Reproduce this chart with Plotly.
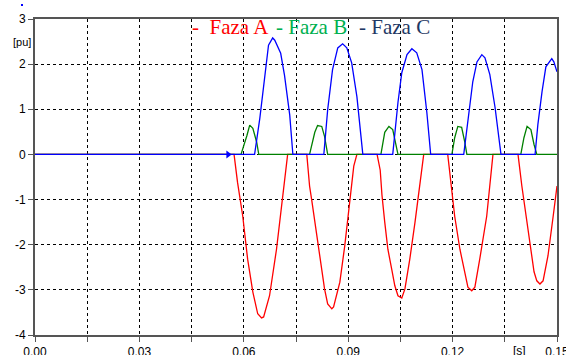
import plotly.graph_objects as go

# ---- data (time in s, values in pu) ----
red_t = [0.0, 0.0572, 0.0582, 0.0597, 0.0611, 0.0626, 0.0640, 0.0651, 0.0657, 0.0674, 0.0694, 0.0712, 0.0726,
         0.0781, 0.0789, 0.0795, 0.0809, 0.0824, 0.0832, 0.0841, 0.0853, 0.0858, 0.0876, 0.0890, 0.0904, 0.0916, 0.0925,
         0.0983, 0.0992, 0.0997, 0.1005, 0.1014, 0.1025, 0.1034, 0.1043, 0.1054, 0.1063, 0.1077, 0.1092, 0.1106, 0.1117,
         0.1186, 0.1198, 0.1206, 0.1221, 0.1235, 0.1244, 0.1255, 0.1264, 0.1278, 0.1298, 0.1316,
         0.1388, 0.1399, 0.1408, 0.1422, 0.1434, 0.1442, 0.1451, 0.1460, 0.1474, 0.1489, 0.1500]
red_v = [0, 0, -0.62, -1.37, -2.32, -3.05, -3.53, -3.62, -3.60, -3.13, -2.10, -0.84, 0,
         0, -0.70, -1.00, -1.72, -2.47, -2.98, -3.31, -3.42, -3.38, -2.83, -2.03, -1.00, -0.26, 0,
         0, -0.35, -0.90, -1.50, -2.10, -2.54, -2.91, -3.13, -3.18, -2.98, -2.32, -1.50, -0.62, 0,
         0, -0.77, -1.37, -2.10, -2.60, -2.94, -3.02, -2.94, -2.32, -1.37, 0,
         0, -0.70, -1.21, -1.94, -2.60, -2.80, -2.87, -2.80, -2.25, -1.37, -0.70]

green_t = [0.0, 0.0592, 0.0609, 0.0617, 0.0626, 0.0637, 0.0643,
           0.0789, 0.0804, 0.0812, 0.0824, 0.0832, 0.0841,
           0.0994, 0.1005, 0.1017, 0.1028, 0.1037, 0.1043,
           0.1198, 0.1206, 0.1215, 0.1226, 0.1235, 0.1241,
           0.1396, 0.1405, 0.1414, 0.1425, 0.1434, 0.1442, 0.1500]
green_v = [0, 0, 0.42, 0.65, 0.58, 0.27, 0,
           0, 0.49, 0.64, 0.62, 0.40, 0,
           0, 0.49, 0.62, 0.55, 0.26, 0,
           0, 0.37, 0.62, 0.60, 0.27, 0,
           0, 0.37, 0.62, 0.55, 0.22, 0, 0]

blue_t = [0.0, 0.0631, 0.0646, 0.0660, 0.0671, 0.0683, 0.0689, 0.0706, 0.0717, 0.0732, 0.0741,
          0.0830, 0.0841, 0.0855, 0.0870, 0.0884, 0.0896, 0.0910, 0.0925, 0.0942,
          0.1028, 0.1043, 0.1054, 0.1069, 0.1083, 0.1097, 0.1112, 0.1126, 0.1137,
          0.1232, 0.1244, 0.1258, 0.1270, 0.1284, 0.1293, 0.1307, 0.1322, 0.1339,
          0.1437, 0.1445, 0.1457, 0.1468, 0.1485, 0.1491, 0.1500]
blue_v = [0, 0, 0.80, 1.75, 2.42, 2.58, 2.53, 2.24, 1.75, 0.87, 0,
          0, 0.99, 1.88, 2.36, 2.45, 2.36, 2.03, 1.28, 0,
          0, 1.15, 1.81, 2.21, 2.34, 2.25, 1.88, 0.93, 0,
          0, 0.73, 1.61, 2.05, 2.21, 2.14, 1.77, 1.04, 0,
          0, 0.66, 1.39, 1.94, 2.12, 2.05, 1.83]

arrow_t = [0.0555]
arrow_v = [0.0]

x_tickvals = [0.0, 0.015, 0.03, 0.045, 0.06, 0.075, 0.09, 0.105, 0.12, 0.135, 0.15]
x_ticktext = ["0.00", "", "0.03", "", "0.06", "", "0.09", "", "0.12", "", "0.15"]
y_tickvals = [3, 2, 1, 0, -1, -2, -3, -4]
y_ticktext = ["3", "2", "1", "0", "-1", "-2", "-3", "-4"]

assert len(red_t) == len(red_v) and len(green_t) == len(green_v) and len(blue_t) == len(blue_v)

fig = go.Figure()
fig.add_trace(go.Scatter(x=red_t, y=red_v, mode="lines", line=dict(color="#FF0000", width=1.3), cliponaxis=True))
fig.add_trace(go.Scatter(x=green_t, y=green_v, mode="lines", line=dict(color="#008000", width=1.3)))
fig.add_trace(go.Scatter(x=blue_t, y=blue_v, mode="lines", line=dict(color="#0000FF", width=1.3)))
fig.add_trace(go.Scatter(x=arrow_t, y=arrow_v, mode="markers",
                         marker=dict(symbol="triangle-right", size=7, color="#0000FF")))

axis_common = dict(showline=True, linecolor="#555555", linewidth=2, mirror=True,
                   showgrid=True, gridcolor="#000000", gridwidth=1, griddash="dot",
                   zeroline=False, ticks="outside", ticklen=5, tickcolor="#555555", tickwidth=1,
                   automargin=False, ticklabeloverflow="allow",
                   tickfont=dict(family="Liberation Sans, Arial", size=12, color="#000000"))

fig.update_xaxes(range=[0, 0.15], tickmode="array", tickvals=x_tickvals, ticktext=x_ticktext, **axis_common)
fig.update_yaxes(range=[-4, 3], tickmode="array", tickvals=y_tickvals, ticktext=y_ticktext, **axis_common)

serif = "Liberation Serif, Times New Roman"
ann = [
    dict(text="[pu]", x=-0.024, y=0.927, xref="paper", yref="paper", showarrow=False,
         xanchor="center", yanchor="middle", font=dict(family="Liberation Sans, Arial", size=11, color="#000")),
    dict(text="[s]", x=0.929, y=0, xref="paper", yref="paper", showarrow=False,
         xanchor="center", yanchor="top", yshift=-7, font=dict(family="Liberation Sans, Arial", size=12, color="#000")),
    dict(text="-  Faza A", x=(190 - 35) / 522, y=0.975, xref="paper", yref="paper", showarrow=False,
         xanchor="left", yanchor="middle", font=dict(family=serif, size=21, color="#FF0000")),
    dict(text="- Faza B", x=(274 - 35) / 522, y=0.975, xref="paper", yref="paper", showarrow=False,
         xanchor="left", yanchor="middle", font=dict(family=serif, size=21, color="#00B050")),
    dict(text="- Faza C", x=(357 - 35) / 522, y=0.975, xref="paper", yref="paper", showarrow=False,
         xanchor="left", yanchor="middle", font=dict(family=serif, size=21, color="#1F3864")),
]

fig.update_layout(
    width=566, height=355,
    margin=dict(l=35, r=9, t=19, b=20, autoexpand=False),
    paper_bgcolor="#FFFFFF", plot_bgcolor="#FFFFFF",
    showlegend=False,
    annotations=ann,
    shapes=[dict(type="rect", xref="paper", yref="paper",
                 x0=(21 - 35) / 522, x1=(23 - 35) / 522, y0=(335 - 6) / 316, y1=(335 - 4) / 316,
                 fillcolor="#0000FF", line=dict(width=0))],
)

fig.write_html("out.html")
